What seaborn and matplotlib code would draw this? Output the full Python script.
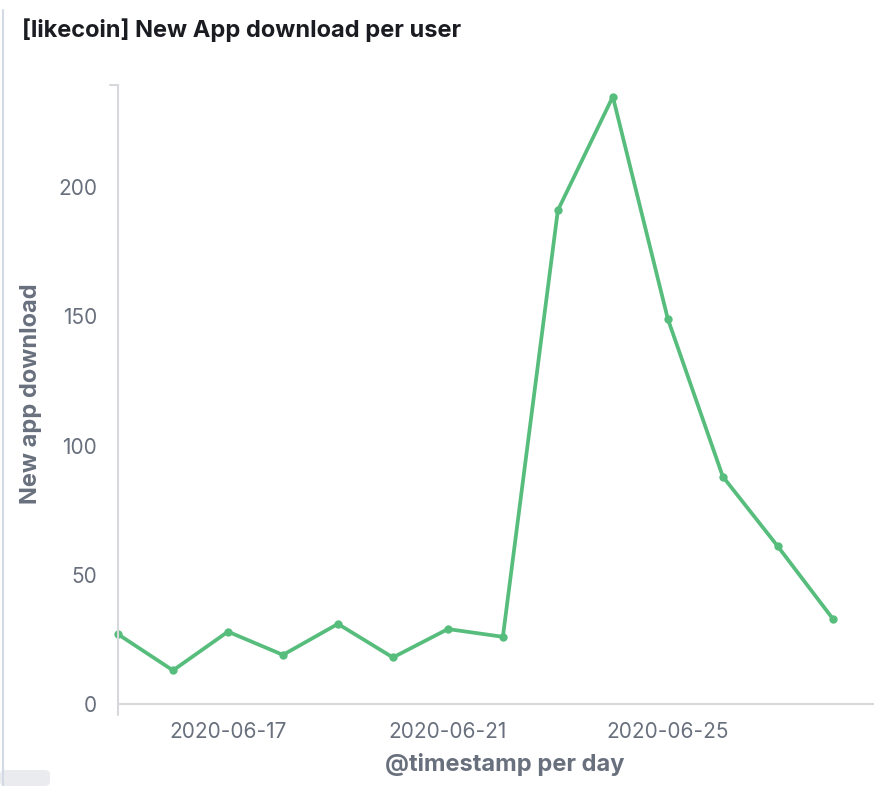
import matplotlib
matplotlib.use("Agg")
import matplotlib.pyplot as plt
import matplotlib.dates as mdates
from matplotlib.patches import FancyBboxPatch
import seaborn as sns
import pandas as pd
import numpy as np

dates = pd.date_range("2020-06-15", "2020-06-28", freq="D")
downloads = [27, 13, 28, 19, 31, 18, 29, 26, 191, 235, 149, 88, 61, 33]
tick_dates = ["2020-06-17", "2020-06-21", "2020-06-25"]
y_ticks = [0, 50, 100, 150, 200]

df = pd.DataFrame({"@timestamp per day": dates, "New app download": downloads})

sns.set_theme(style="white")
plt.rcParams["font.family"] = ["Inter", "DejaVu Sans"]

W, H = 874, 786
fig = plt.figure(figsize=(W / 100, H / 100), dpi=100)
ax = fig.add_axes([118 / W, 1 - 704 / H, 1 - 118 / W, (704 - 85) / H])

green = "#57BD7C"
text_gray = "#69707D"
axis_gray = "#D6D8DC"

sns.lineplot(data=df, x="@timestamp per day", y="New app download", ax=ax,
             color=green, linewidth=2.7, marker="o", markersize=6,
             markeredgewidth=0, clip_on=False)

ax.set_ylim(0, 239.5)
ax.set_xlim(dates[0], dates[0] + pd.Timedelta(days=13.75))
ax.set_yticks(y_ticks)
ax.set_xticks(pd.to_datetime(tick_dates))
ax.xaxis.set_major_formatter(mdates.DateFormatter("%Y-%m-%d"))

for s in ["top", "right"]:
    ax.spines[s].set_visible(False)
for s in ["left", "bottom"]:
    ax.spines[s].set_color(axis_gray)
    ax.spines[s].set_linewidth(1.5)

ax.tick_params(axis="both", colors=axis_gray, width=1.5, length=8,
               labelcolor=text_gray, labelsize=15, pad=5)
ax.tick_params(axis="y", pad=7)
# top tick on y axis
ax.plot([-8 / (W - 118), 0], [1, 1], transform=ax.transAxes, color=axis_gray,
        lw=1.5, clip_on=False)
# spine extension below zero
ax.plot([0, 0], [0, -11 / (704 - 85)], transform=ax.transAxes, color=axis_gray,
        lw=1.5, clip_on=False)

ax.set_xlabel("@timestamp per day", color=text_gray, fontsize=17,
              fontweight="bold")
ax.set_ylabel("New app download", color=text_gray, fontsize=17,
              fontweight="bold")
ax.yaxis.set_label_coords(-(118 - 42) / (W - 118), (704 - 394) / (704 - 85))
ax.xaxis.set_label_coords((505 - 118) / (W - 118), -(753 - 704) / (704 - 85))

fig.text(22 / W, 1 - 30 / H, "[likecoin] New App download per user",
         fontsize=17, fontweight="bold", color="#1A1C21", va="center", ha="left")

# panel border on left edge
fig.add_artist(plt.Line2D([3 / W, 3 / W], [0, 1 - 10 / H], transform=fig.transFigure,
                          color="#D3DAE6", lw=1.5))
fig.add_artist(FancyBboxPatch((0, 0), 50 / W, 16 / H, transform=fig.transFigure,
                              boxstyle="round,pad=0,rounding_size=0.006",
                              facecolor="#E9EBEE", edgecolor="none"))

fig.savefig("out.png", dpi=100)
